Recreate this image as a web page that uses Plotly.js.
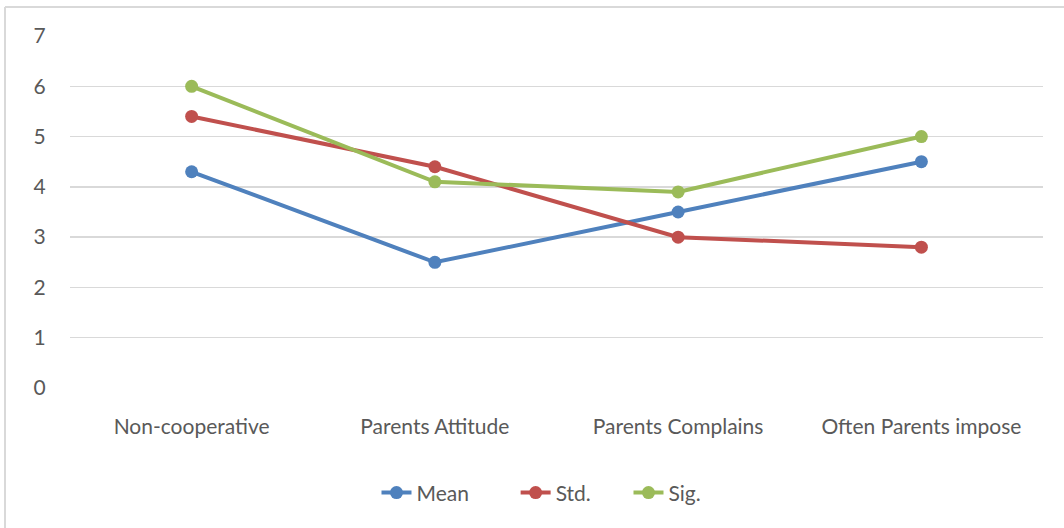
<!DOCTYPE html>
<html>
<head>
<meta charset="utf-8">
<script src="https://cdn.plot.ly/plotly-3.0.1.min.js"></script>
<style>
  html, body { margin: 0; padding: 0; background: #fff; }
  #chart { width: 1064px; height: 528px; }
</style>
</head>
<body>
<div id="chart"></div>
<script>
// Categories and series values
const categories = ['Non-cooperative', 'Parents Attitude', 'Parents Complains', 'Often Parents impose'];
const meanValues = [4.3, 2.5, 3.5, 4.5];
const stdValues  = [5.4, 4.4, 3.0, 2.8];
const sigValues  = [6.0, 4.1, 3.9, 5.0];
const yTicks = [0, 1, 2, 3, 4, 5, 6, 7];

const fontFamily = 'Lato, "Open Sans", sans-serif';
const textColor = '#595959';
const fontSize = 21;

// each series gets its own legend box so the entries can be spaced freely
const seriesDefs = [
  { name: 'Mean', y: meanValues, color: '#4F81BD', legend: 'legend',  lx: 0.315 },
  { name: 'Std.', y: stdValues,  color: '#C0504D', legend: 'legend2', lx: 0.458 },
  { name: 'Sig.', y: sigValues,  color: '#9BBB59', legend: 'legend3', lx: 0.574 }
];

const traces = seriesDefs.map(s => ({
  type: 'scatter',
  mode: 'lines+markers',
  name: s.name,
  legend: s.legend,
  x: categories,
  y: s.y,
  line: { color: s.color, width: 4 },
  marker: { color: s.color, size: 13 },
  hoverinfo: 'x+y+name'
}));

const layout = {
  width: 1064,
  height: 528,
  margin: { l: 70, r: 21, t: 36, b: 140 },
  paper_bgcolor: '#ffffff',
  plot_bgcolor: '#ffffff',
  font: { family: fontFamily, size: fontSize, color: textColor },
  showlegend: true,
  xaxis: {
    type: 'category',
    range: [-0.5, 3.5],
    showgrid: false,
    zeroline: false,
    showline: false,
    ticks: 'outside',
    ticklen: 20,
    tickcolor: 'rgba(0,0,0,0)',
    tickfont: { family: fontFamily, size: fontSize, color: textColor },
    fixedrange: true
  },
  yaxis: {
    range: [0, 7],
    tickvals: yTicks,
    showgrid: true,
    gridcolor: '#D9D9D9',
    gridwidth: 1.5,
    zeroline: false,
    showline: false,
    ticks: 'outside',
    ticklen: 19,
    tickcolor: 'rgba(0,0,0,0)',
    tickfont: { family: fontFamily, size: fontSize, color: textColor },
    fixedrange: true
  },
  shapes: [
    // chart frame: top and left edges
    { type: 'line', xref: 'paper', yref: 'paper', x0: -0.0668, x1: 1.05, y0: 1.0824, y1: 1.0824,
      line: { color: '#D9D9D9', width: 2 } },
    { type: 'line', xref: 'paper', yref: 'paper', x0: -0.0668, x1: -0.0668, y0: 1.0824, y1: -0.45,
      line: { color: '#D9D9D9', width: 2 } }
  ]
};

seriesDefs.forEach(s => {
  layout[s.legend] = {
    orientation: 'h',
    x: s.lx, xanchor: 'left',
    y: -0.298, yanchor: 'middle',
    bgcolor: 'rgba(0,0,0,0)',
    font: { family: fontFamily, size: fontSize, color: textColor },
    itemwidth: 30
  };
});

Plotly.newPlot('chart', traces, layout, { displayModeBar: false, staticPlot: true });
</script>
</body>
</html>
